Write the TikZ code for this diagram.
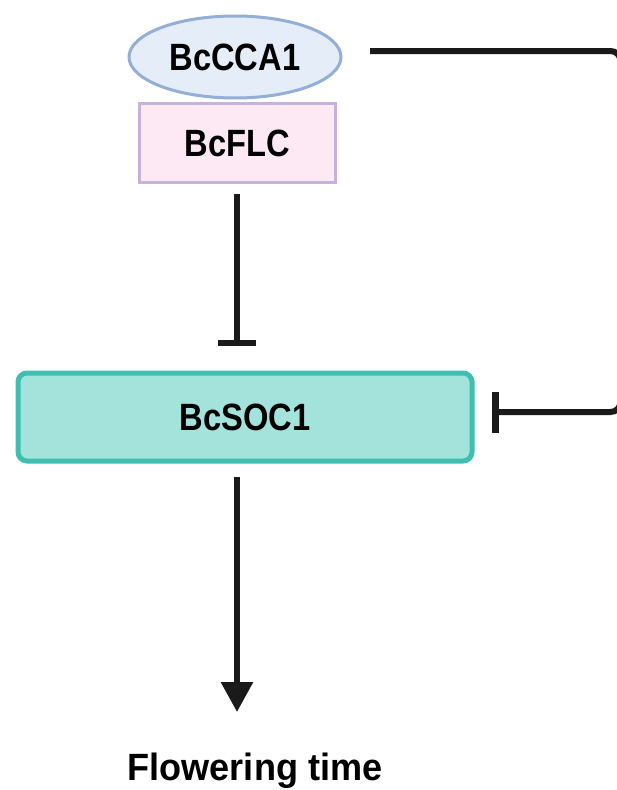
\documentclass[tikz,border=0pt]{standalone}
\usepackage{fontspec}
\setmainfont{Liberation Sans}
\usetikzlibrary{shapes.geometric,arrows.meta}
\definecolor{ellfill}{HTML}{E4EDF8}
\definecolor{elldraw}{HTML}{94AED6}
\definecolor{flcfill}{HTML}{FCE9F3}
\definecolor{flcdraw}{HTML}{C4B3DA}
\definecolor{socfill}{HTML}{A4E2DC}
\definecolor{socdraw}{HTML}{3FBEB2}
\definecolor{ink}{HTML}{1A1A1A}
\newcommand{\lbl}[2]{\scalebox{#1}[1]{\fontsize{38}{41}\selectfont\bfseries #2}}
\tikzset{
  conn/.style={draw=ink, line width=6pt},
  gene/.style={inner sep=0pt, outer sep=0pt, text=black},
}
\begin{document}
\begin{tikzpicture}[x=1pt,y=-1pt]
\useasboundingbox (0,0) rectangle (617,790);
% nodes
\node[gene, ellipse, fill=ellfill, draw=elldraw, line width=3pt,
      minimum width=212pt, minimum height=82pt] (cca) at (235,57) {\lbl{0.86}{BcCCA1}};
\node[gene, rectangle, fill=flcfill, draw=flcdraw, line width=3pt,
      minimum width=196pt, minimum height=79pt] (flc) at (237.5,143) {\lbl{0.86}{BcFLC}};
\node[gene, rectangle, rounded corners=9pt, fill=socfill, draw=socdraw, line width=5pt,
      minimum width=454pt, minimum height=88pt] (soc) at (245,417) {\lbl{0.86}{BcSOC1}};
\node[gene, anchor=base] (flower) at (255,780) {\lbl{0.95}{Flowering time}};
% helper coordinates
\coordinate (flcout) at (237,194);
\coordinate (socin) at (237,346);
\coordinate (socout) at (237,477);
\coordinate (flin) at (237,712);
\coordinate (ccaout) at (370,51);
\coordinate (fbcorner1) at (620.5,51);
\coordinate (fbcorner2) at (620.5,412);
\coordinate (fbend) at (492,412);
% connectors
\draw[conn, -{Bar[width=38pt,line width=6.5pt]}] (flcout) -- (socin);
\draw[conn, -{Triangle[width=31pt,length=30pt]}] (socout) -- (flin);
\draw[conn, rounded corners=10pt, -{Bar[width=41pt,line width=6.5pt]}]
  (ccaout) -- (fbcorner1) -- (fbcorner2) -- (fbend);
\end{tikzpicture}
\end{document}
